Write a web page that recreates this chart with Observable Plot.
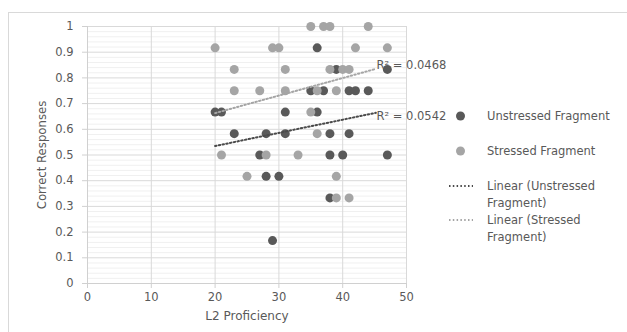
<!DOCTYPE html>
<html><head><meta charset="utf-8">
<script src="https://cdn.jsdelivr.net/npm/d3@7"></script>
<script src="https://cdn.jsdelivr.net/npm/@observablehq/plot@0.6"></script>
<style>
html,body{margin:0;padding:0;overflow:hidden;background:#fff;}
#wrap{position:relative;width:627px;height:332px;font-family:"DejaVu Sans",sans-serif;color:#595959;overflow:hidden;}
#border{position:absolute;left:8px;top:12px;width:700px;height:400px;border:1px solid #d9d9d9;box-sizing:border-box;}
#chart{position:absolute;left:0;top:0;}
.t{position:absolute;white-space:nowrap;font-size:11.5px;line-height:17px;color:#595959;}
.ytitle{position:absolute;left:41px;top:155px;transform:translate(-50%,-50%) rotate(-90deg);font-size:13px;white-space:nowrap;font-family:"DejaVu Sans Condensed","DejaVu Sans",sans-serif;color:#595959;}
.xtitle{position:absolute;left:247px;top:316px;transform:translate(-50%,-50%);font-size:12px;white-space:nowrap;color:#595959;}
</style></head><body>
<div id="wrap"><div id="border"></div><div id="chart"></div></div>
<script>
// ---- data ----
const xTicks = [0, 10, 20, 30, 40, 50];
const yTicks = [0, 0.1, 0.2, 0.3, 0.4, 0.5, 0.6, 0.7, 0.8, 0.9, 1];
const yMinorStep = 0.02;

const seriesNames = ["Unstressed Fragment", "Stressed Fragment"];
const trendNames = ["Linear (Unstressed Fragment)", "Linear (Stressed Fragment)"];
const seriesColors = ["#595959", "#a5a5a5"];
const trendColors = ["#4a4a4a", "#a5a5a5"];

const unstressedX = [36, 39, 47, 35, 37, 41, 42, 44, 20, 21, 31, 36, 23, 28, 31, 38, 41, 27, 38, 40, 47, 28, 30, 38, 29];
const unstressedY = [0.917, 0.833, 0.833, 0.75, 0.75, 0.75, 0.75, 0.75, 0.667, 0.667, 0.667, 0.667, 0.583, 0.583, 0.583, 0.583, 0.583, 0.5, 0.5, 0.5, 0.5, 0.417, 0.417, 0.333, 0.167];

const stressedX = [35, 37, 38, 44, 20, 29, 30, 42, 47, 23, 31, 38, 40, 41, 23, 27, 31, 36, 39, 35, 36, 21, 28, 33, 25, 39, 39, 41];
const stressedY = [1, 1, 1, 1, 0.917, 0.917, 0.917, 0.917, 0.917, 0.833, 0.833, 0.833, 0.833, 0.833, 0.75, 0.75, 0.75, 0.75, 0.75, 0.667, 0.583, 0.5, 0.5, 0.5, 0.417, 0.417, 0.333, 0.333];

// trend lines (endpoints)
const trendX = [20, 45.2];
const trendUnstressedY = [0.535, 0.664];
const trendStressedY = [0.663, 0.835];

// R² labels
const r2Text = ["R² = 0.0468", "R² = 0.0542"];
const r2X = [45.3, 45.3];
const r2Y = [0.848, 0.652];

// ---- build tables ----
const unstressed = unstressedX.map((x, i) => ({x, y: unstressedY[i]}));
const stressed = stressedX.map((x, i) => ({x, y: stressedY[i]}));
const trendU = trendX.map((x, i) => ({x, y: trendUnstressedY[i]}));
const trendS = trendX.map((x, i) => ({x, y: trendStressedY[i]}));
const r2 = r2Text.map((text, i) => ({text, x: r2X[i], y: r2Y[i]}));
const minor = d3.range(0, 1.0001, yMinorStep).map(v => +v.toFixed(2)).filter(v => !yTicks.some(t => Math.abs(t - v) < 1e-6));

const fmtY = d => String(+d.toFixed(1));
const dash = "1.5,2.3";

const chart = Plot.plot({
  width: 627, height: 332,
  marginLeft: 87, marginRight: 221, marginTop: 26, marginBottom: 49,
  style: {fontFamily: "'DejaVu Sans', sans-serif", fontSize: "11.5px", color: "#595959", background: "transparent", overflow: "visible"},
  x: {domain: [0, 50], label: null},
  y: {domain: [0, 1], label: null},
  marks: [
    Plot.gridY(minor, {stroke: "#f0f0f0", strokeOpacity: 1, strokeWidth: 1}),
    Plot.gridY(yTicks, {stroke: "#d9d9d9", strokeOpacity: 1, strokeWidth: 1}),
    Plot.gridX(xTicks, {stroke: "#d9d9d9", strokeOpacity: 1, strokeWidth: 1}),
    Plot.ruleX([0], {stroke: "#d0d0d0"}),
    Plot.ruleY([0], {stroke: "#d0d0d0"}),
    Plot.axisY({ticks: yTicks, tickFormat: fmtY, tickSize: 5, tickPadding: 9, stroke: "#d0d0d0", fill: "#595959", label: null}),
    Plot.axisX({ticks: xTicks, tickSize: 5, tickPadding: 4, stroke: "#d0d0d0", fill: "#595959", label: null}),
    Plot.dot(unstressed, {x: "x", y: "y", r: 4.5, fill: seriesColors[0], stroke: "none"}),
    Plot.dot(stressed, {x: "x", y: "y", r: 4.5, fill: seriesColors[1], stroke: "none"}),
    Plot.line(trendU, {x: "x", y: "y", stroke: trendColors[0], strokeWidth: 2, strokeDasharray: dash}),
    Plot.line(trendS, {x: "x", y: "y", stroke: trendColors[1], strokeWidth: 2, strokeDasharray: dash}),
    Plot.text(r2, {x: "x", y: "y", text: "text", textAnchor: "start", fill: "#595959", fontSize: 11.5})
  ]
});
document.getElementById("chart").appendChild(chart);

// ---- legend and titles (HTML) ----
const wrap = document.getElementById("wrap");
function add(html) { wrap.insertAdjacentHTML("beforeend", html); }
const legendMarks = [
  {kind: "dot", color: seriesColors[0], y: 116, lines: [seriesNames[0]]},
  {kind: "dot", color: seriesColors[1], y: 151, lines: [seriesNames[1]]},
  {kind: "line", color: trendColors[0], y: 186, lines: ["Linear (Unstressed", "Fragment)"]},
  {kind: "line", color: trendColors[1], y: 220, lines: ["Linear (Stressed", "Fragment)"]}
];
let svgParts = "";
legendMarks.forEach(m => {
  if (m.kind === "dot") svgParts += `<circle cx="460.5" cy="${m.y}" r="4.5" fill="${m.color}"/>`;
  else svgParts += `<line x1="449" x2="473" y1="${m.y}" y2="${m.y}" stroke="${m.color}" stroke-width="2" stroke-dasharray="${dash}"/>`;
  m.lines.forEach((ln, j) => add(`<div class="t" style="left:487px;top:${m.y - 8.5 + j * 17}px">${ln}</div>`));
});
add(`<svg width="627" height="332" style="position:absolute;left:0;top:0">${svgParts}</svg>`);
add(`<div class="ytitle">Correct Responses</div>`);
add(`<div class="xtitle">L2 Proficiency</div>`);
</script>
</body></html>
